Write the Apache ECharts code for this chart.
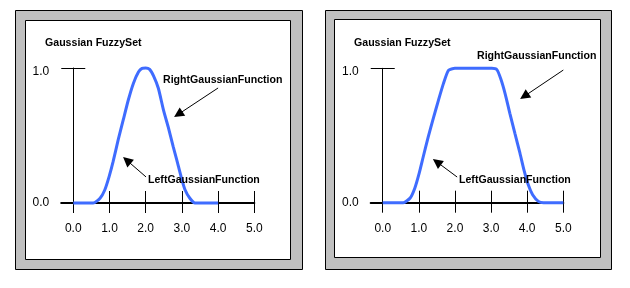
<!DOCTYPE html>
<html>
<head>
<meta charset="utf-8">
<script src="https://cdn.jsdelivr.net/npm/echarts@6/dist/echarts.min.js"></script>
<style>
html,body{margin:0;padding:0;background:#fff;}
#chart{width:630px;height:288px;}
</style>
</head>
<body>
<div id="chart"></div>
<script>
// ---- data ----
const xTicks = [0, 1, 2, 3, 4, 5];
const yTicks = [0, 1];
const xMin = -1 / 3;
const xMax = 5;

const leftX = [0, 0.55, 0.74, 0.87, 0.99, 1.10, 1.24, 1.38, 1.52, 1.66, 1.80, 1.90, 2.00, 2.11, 2.22, 2.35, 2.49, 2.62, 2.76, 2.86, 2.99, 3.09, 3.22, 3.36, 4.0];
const leftY = [0, 0, 0.035, 0.096, 0.195, 0.306, 0.467, 0.615, 0.763, 0.886, 0.970, 0.997, 1.0, 0.99, 0.94, 0.85, 0.69, 0.565, 0.417, 0.318, 0.183, 0.096, 0.035, 0, 0];

const rightX = [0, 0.57, 0.76, 0.89, 1.01, 1.12, 1.26, 1.40, 1.54, 1.68, 1.82, 2.0, 3.02, 3.16, 3.27, 3.39, 3.52, 3.66, 3.80, 3.91, 4.03, 4.15, 4.31, 4.45, 5.0];
const rightY = [0, 0, 0.035, 0.11, 0.22, 0.34, 0.49, 0.627, 0.76, 0.886, 0.985, 1.0, 1.0, 0.99, 0.92, 0.81, 0.665, 0.516, 0.368, 0.244, 0.133, 0.059, 0.01, 0, 0];

const titleText = 'Gaussian FuzzySet';
const rightLabel = 'RightGaussianFunction';
const leftLabel = 'LeftGaussianFunction';

// arrows: [start, head] in data coordinates
const leftPanelArrows = [
  [[4.0, 0.852], [2.90, 0.657]],
  [[2.01, 0.193], [1.48, 0.316]]
];
const rightPanelArrows = [
  [[5.0, 0.987], [3.92, 0.792]],
  [[2.06, 0.191], [1.50, 0.303]]
];

// ---- build ----
const zip = (xs, ys) => xs.map((x, i) => [x, ys[i]]);
const fmt = v => Number(v).toFixed(1);
const fmtY = v => (Number(v) === 1 ? '{lo|' + fmt(v) + '}' : fmt(v));
const blue = '#3f6cff';
const tickFont = 'Liberation Sans, Arial, sans-serif';
const annFont = {fontFamily: 'Liberation Sans, Arial, sans-serif', fontWeight: 'bold', fontSize: 10.6, fill: '#000'};

function xAxesFor(gi) {
  return [
    {
      gridIndex: gi, type: 'value', position: 'bottom', min: xMin, max: xMax,
      axisLine: {show: true, onZero: true, lineStyle: {color: '#000', width: 2}},
      axisTick: {show: true, inside: false, length: 10, customValues: xTicks, lineStyle: {color: '#000', width: 1}},
      axisLabel: {show: true, customValues: xTicks, formatter: fmt, margin: 20,
        color: '#000', fontFamily: tickFont, fontSize: 12},
      splitLine: {show: false}
    },
    {
      gridIndex: gi, type: 'value', position: 'bottom', min: xMin, max: xMax,
      axisLine: {show: false, onZero: true},
      axisTick: {show: true, inside: true, length: 12, customValues: xTicks, lineStyle: {color: '#000', width: 1}},
      axisLabel: {show: false},
      splitLine: {show: false}
    }
  ];
}
function yAxesFor(gi) {
  return [
    {
      gridIndex: gi, type: 'value', position: 'left', min: 0, max: 1,
      axisLine: {show: true, onZero: true, lineStyle: {color: '#000', width: 1}},
      axisTick: {show: true, inside: false, length: 12, customValues: [1], lineStyle: {color: '#000', width: 1}},
      axisLabel: {show: true, customValues: yTicks, formatter: fmtY, margin: 12,
        color: '#000', fontFamily: tickFont, fontSize: 12,
        rich: {lo: {color: '#000', fontFamily: tickFont, fontSize: 12, padding: [7, 0, 0, 0]}}},
      splitLine: {show: false}
    },
    {
      gridIndex: gi, type: 'value', position: 'left', min: 0, max: 1,
      axisLine: {show: false, onZero: true},
      axisTick: {show: true, inside: true, length: 12, customValues: [1], lineStyle: {color: '#000', width: 1}},
      axisLabel: {show: false},
      splitLine: {show: false}
    }
  ];
}
function arrowLines(arrs) {
  return {
    silent: true, animation: false,
    symbol: ['none', 'triangle'], symbolSize: 10,
    lineStyle: {color: '#000', width: 1, type: 'solid'},
    itemStyle: {color: '#000'},
    label: {show: false},
    emphasis: {disabled: true},
    data: arrs.map(a => [{coord: a[0]}, {coord: a[1]}])
  };
}
function frame(x0, y0, x1, y1, ix0, iy0, ix1, iy1) {
  return [
    {type: 'rect', z: -10, silent: true, shape: {x: x0 + 0.5, y: y0 + 0.5, width: x1 - x0, height: y1 - y0},
      style: {fill: '#c0c0c0', stroke: '#000', lineWidth: 1}},
    {type: 'rect', z: -9, silent: true, shape: {x: ix0 + 0.5, y: iy0 + 0.5, width: ix1 - ix0, height: iy1 - iy0},
      style: {fill: '#fff', stroke: '#000', lineWidth: 1}}
  ];
}
function txt(x, y, t) {
  return {type: 'text', z: 5, silent: true, x: x, y: y,
    style: Object.assign({text: t, textVerticalAlign: 'middle', verticalAlign: 'middle', align: 'left'}, annFont)};
}

const chart = echarts.init(document.getElementById('chart'), null, {renderer: 'canvas'});
chart.setOption({
  animation: false,
  backgroundColor: '#fff',
  grid: [
    {left: 61.2, top: 68, width: 193.1, height: 135},
    {left: 370.7, top: 68.3, width: 192.6, height: 134.4}
  ],
  xAxis: [].concat(xAxesFor(0), xAxesFor(1)),
  yAxis: [].concat(yAxesFor(0), yAxesFor(1)),
  graphic: {elements: [].concat(
    frame(15, 10, 302, 269, 25, 20, 290, 259),
    frame(325, 10, 611, 269, 334, 19, 600, 257),
    [txt(45, 43, titleText), txt(163, 80, rightLabel), txt(148, 180, leftLabel),
     txt(354, 43, titleText), txt(477, 56, rightLabel), txt(459, 180, leftLabel)]
  )},
  series: [
    {type: 'line', xAxisIndex: 0, yAxisIndex: 0, data: zip(leftX, leftY), showSymbol: false,
     smooth: 0.2, clip: false, lineStyle: {color: blue, width: 3}, itemStyle: {color: blue},
     markLine: arrowLines(leftPanelArrows)},
    {type: 'line', xAxisIndex: 2, yAxisIndex: 2, data: zip(rightX, rightY), showSymbol: false,
     smooth: 0.2, clip: false, lineStyle: {color: blue, width: 3}, itemStyle: {color: blue},
     markLine: arrowLines(rightPanelArrows)}
  ]
});
</script>
</body>
</html>
